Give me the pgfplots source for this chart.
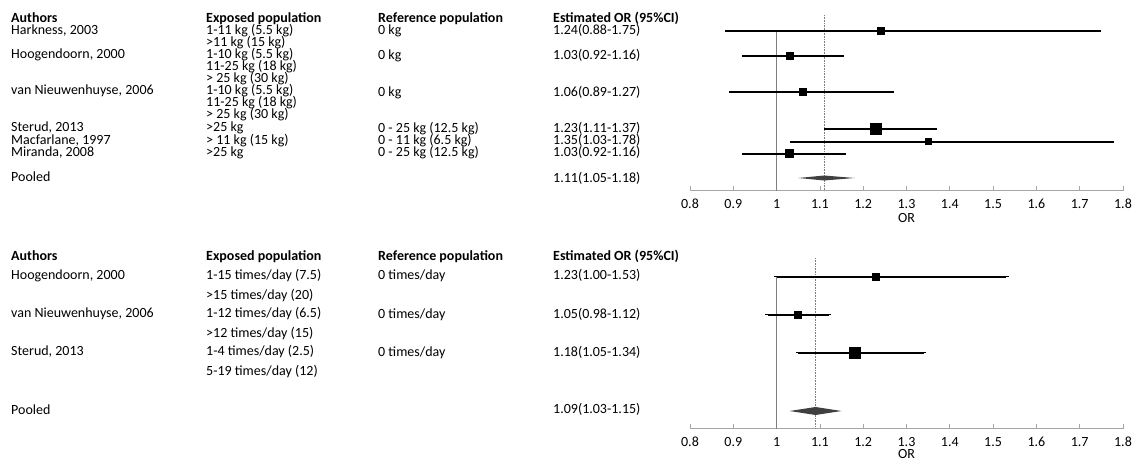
\documentclass[border=0pt]{standalone}
\usepackage{pgfplots}
\pgfplotsset{compat=1.18}
\usepackage{fontspec}
\setmainfont{Carlito}
\definecolor{axgray}{HTML}{A6A6A6}
\definecolor{refgray}{HTML}{7F7F7F}
\definecolor{diam}{HTML}{404040}
\newcommand\fs{\fontsize{14pt}{15pt}\selectfont}
\newcommand\txt[3]{\node[anchor=mid west, inner sep=0pt] at ({#1pt},{460pt-#2pt}) {\fs #3};}
\pgfplotsset{
  forest/.style={
    scale only axis, width=433pt, clip=false,
    xmin=0.8, xmax=1.8, enlargelimits=false,
    axis x line*=bottom, axis y line=none,
    axis line style={axgray, line width=1pt},
    xtick={0.8,0.9,1,1.1,1.2,1.3,1.4,1.5,1.6,1.7,1.8},
    xticklabels={\fs 0.8,\fs 0.9,\fs 1,\fs 1.1,\fs 1.2,\fs 1.3,\fs 1.4,\fs 1.5,\fs 1.6,\fs 1.7,\fs 1.8},
    tick align=inside, major tick length=5pt,
    tick style={axgray, line width=0.8pt},
    xticklabel style={anchor=center, yshift=-13pt},
    xlabel={\fs OR},
    /pgf/number format/assume math mode=true,
  },
  study/.style={black, line width=1.6pt, mark=square*, mark options={solid, line width=0pt},
    error bars/x dir=both, error bars/x explicit,
    error bars/error bar style={line width=1.6pt, black}},
  nocap/.style={error bars/error mark=none},
  cap/.style={error bars/error mark options={line width=1pt, mark size=2.5pt, black}},
}
\begin{document}
\begin{tikzpicture}
\useasboundingbox (0,0) rectangle (1132pt,460pt);
% ---------- top panel ----------
\begin{axis}[forest, at={(690pt,269pt)}, anchor=south west, height=181pt, ymin=-191, ymax=-10,
  xlabel style={anchor=center, at={(0.5,0)}, yshift=-27pt}]
\addplot[refgray, line width=0.8pt] coordinates {(1,-31) (1,-191)};
\addplot[refgray, line width=0.6pt, densely dotted] coordinates {(1.11,-15) (1.11,-191)};
\addplot[study, nocap, mark size=3.5pt] table[x=x,y=y,x error plus=ep,x error minus=em] {
x y ep em
1.24 -31 0.51 0.36
};
\addplot[study, nocap, mark size=3.5pt] table[x=x,y=y,x error plus=ep,x error minus=em] {
x y ep em
1.03 -56 0.125 0.11
};
\addplot[study, nocap, mark size=3.5pt] table[x=x,y=y,x error plus=ep,x error minus=em] {
x y ep em
1.06 -92 0.21 0.17
};
\addplot[study, nocap, mark size=5.5pt] table[x=x,y=y,x error plus=ep,x error minus=em] {
x y ep em
1.23 -129 0.14 0.12
};
\addplot[study, nocap, mark size=3pt] table[x=x,y=y,x error plus=ep,x error minus=em] {
x y ep em
1.35 -142 0.43 0.32
};
\addplot[study, nocap, mark size=4pt] table[x=x,y=y,x error plus=ep,x error minus=em] {
x y ep em
1.03 -154 0.13 0.11
};
\addplot[fill=diam, draw=none] coordinates {(1.05,-178) (1.11,-175.5) (1.18,-178) (1.11,-180.5)} -- cycle;
\end{axis}
% ---------- bottom panel ----------
\begin{axis}[forest, at={(690pt,31pt)}, anchor=south west, height=179pt, ymin=-429, ymax=-250,
  xlabel style={anchor=center, at={(0.5,0)}, yshift=-25pt}]
\addplot[refgray, line width=0.8pt] coordinates {(1,-277) (1,-429)};
\addplot[refgray, line width=0.6pt, densely dotted] coordinates {(1.09,-258) (1.09,-429)};
\addplot[study, cap, mark size=3.5pt] table[x=x,y=y,x error plus=ep,x error minus=em] {
x y ep em
1.23 -277 0.30 0.23
};
\addplot[study, cap, mark size=3.5pt] table[x=x,y=y,x error plus=ep,x error minus=em] {
x y ep em
1.05 -315 0.07 0.07
};
\addplot[study, cap, mark size=5.5pt] table[x=x,y=y,x error plus=ep,x error minus=em] {
x y ep em
1.18 -353 0.16 0.13
};
\addplot[fill=diam, draw=none] coordinates {(1.03,-411) (1.09,-407) (1.15,-411) (1.09,-415)} -- cycle;
\end{axis}
% ---------- text columns, top ----------
\txt{11}{20}{\textbf{Authors}}
\txt{206}{20}{\textbf{Exposed population}}
\txt{378}{20}{\textbf{Reference population}}
\txt{553}{20}{\textbf{Estimated OR (95\%CI)}}
\txt{11}{32}{Harkness, 2003}
\txt{206}{32}{1-11 kg (5.5 kg)}
\txt{378}{32}{0 kg}
\txt{553}{32}{1.24(0.88-1.75)}
\txt{206}{44}{>11 kg (15 kg)}
\txt{11}{56}{Hoogendoorn, 2000}
\txt{206}{56}{1-10 kg (5.5 kg)}
\txt{378}{57}{0 kg}
\txt{553}{57}{1.03(0.92-1.16)}
\txt{206}{68}{11-25 kg (18 kg)}
\txt{206}{80}{> 25 kg (30 kg)}
\txt{11}{92}{van Nieuwenhuyse, 2006}
\txt{206}{92}{1-10 kg (5.5 kg)}
\txt{378}{94}{0 kg}
\txt{553}{94}{1.06(0.89-1.27)}
\txt{206}{104}{11-25 kg (18 kg)}
\txt{206}{116}{> 25 kg (30 kg)}
\txt{11}{129}{Sterud, 2013}
\txt{206}{129}{>25 kg}
\txt{378}{130}{0 - 25 kg (12.5 kg)}
\txt{553}{130}{1.23(1.11-1.37)}
\txt{11}{142}{Macfarlane, 1997}
\txt{206}{142}{> 11 kg (15 kg)}
\txt{378}{142}{0 - 11 kg (6.5 kg)}
\txt{553}{142}{1.35(1.03-1.78)}
\txt{11}{154}{Miranda, 2008}
\txt{206}{154}{>25 kg}
\txt{378}{154}{0 - 25 kg (12.5 kg)}
\txt{553}{154}{1.03(0.92-1.16)}
\txt{11}{179}{Pooled}
\txt{553}{180}{1.11(1.05-1.18)}
% ---------- text columns, bottom ----------
\txt{11}{258}{\textbf{Authors}}
\txt{206}{258}{\textbf{Exposed population}}
\txt{378}{258}{\textbf{Reference population}}
\txt{553}{258}{\textbf{Estimated OR (95\%CI)}}
\txt{11}{277}{Hoogendoorn, 2000}
\txt{206}{277}{1-15 times/day (7.5)}
\txt{378}{277}{0 times/day}
\txt{553}{277}{1.23(1.00-1.53)}
\txt{206}{297}{>15 times/day (20)}
\txt{11}{315}{van Nieuwenhuyse, 2006}
\txt{206}{315}{1-12 times/day (6.5)}
\txt{378}{316}{0 times/day}
\txt{553}{316}{1.05(0.98-1.12)}
\txt{206}{335}{>12 times/day (15)}
\txt{11}{353}{Sterud, 2013}
\txt{206}{353}{1-4 times/day (2.5)}
\txt{378}{354}{0 times/day}
\txt{553}{354}{1.18(1.05-1.34)}
\txt{206}{373}{5-19 times/day (12)}
\txt{11}{412}{Pooled}
\txt{553}{411}{1.09(1.03-1.15)}
\end{tikzpicture}
\end{document}
